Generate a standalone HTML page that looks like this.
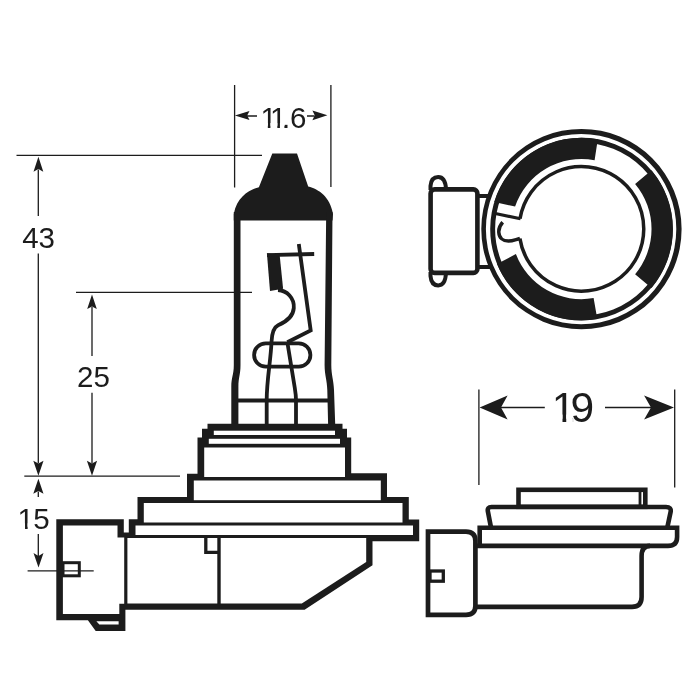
<!DOCTYPE html>
<html><head><meta charset="utf-8">
<style>
html,body{margin:0;padding:0;background:#fff;}
body{width:700px;height:700px;overflow:hidden;}
svg{display:block;}
text{font-family:"Liberation Sans",sans-serif;fill:#1c1c1c;}
.k{fill:#1c1c1c;}
.w{fill:#fff;}
.t{stroke:#1c1c1c;stroke-width:1.3;fill:none;}
.s{stroke:#1c1c1c;fill:none;}
</style></head>
<body>
<svg width="700" height="700" viewBox="0 0 700 700">
<rect width="700" height="700" fill="#fff"/>

<!-- ===== dimension lines ===== -->
<g class="t">
<path d="M234.6 85V187.5M330.9 85V187"/>
<path d="M247 115.9H257M307 115.9H314.5" stroke-width="1.5"/>
<path d="M16.5 155.3H262"/>
<path d="M76 292.4H252"/>
<path d="M24.3 476.2H180"/>
<path d="M38.3 169.5V215.9M38.3 253.6V463.2"/>
<path d="M92 307V355.9M92 392.7V463.2"/>
<path d="M38.3 491.5V497M38.3 533.9V556"/>
<path d="M478.9 389.6V485M674.7 389.6V487.5"/>
<path d="M500 407.4H544.8M605 407.4H652" stroke-width="1.5"/>
</g>
<!-- arrowheads -->
<g class="k">
<path d="M234.9 115.5L249.5 110.9L247.2 115.5L249.5 120.1Z"/>
<path d="M327.4 115.3L312.4 110.4L314.7 115.3L312.4 120.2Z"/>
<path d="M38.4 156.7L43.3 171.7L38.4 169.0L33.5 171.7Z"/>
<path d="M92.0 294.4L96.8 309.1L92.0 306.4L87.2 309.1Z"/>
<path d="M38.4 475.7L43.5 460.7L38.4 463.5L33.3 460.7Z"/>
<path d="M92.0 475.7L97.1 460.7L92.0 463.5L86.9 460.7Z"/>
<path d="M38.4 478.7L43.5 493.7L38.4 491.0L33.3 493.7Z"/>
<path d="M38.5 567.5L43.5 553.0L38.5 556.0L33.5 553.0Z"/>
<path d="M479.6 407.5L507.6 395.5L501.0 407.5L507.6 419.5Z"/>
<path d="M674.0 407.5L644.1 395.5L651.0 407.5L644.1 419.5Z"/>
</g>
<!-- labels -->
<g id="labels" style="filter:grayscale(1)">
<text id="t116" font-size="29.5" y="128.3"><tspan x="260.4">1</tspan><tspan x="269.9">1</tspan><tspan x="281.9">.</tspan><tspan x="290">6</tspan></text>
<text id="t43" font-size="29.5" y="247.7"><tspan x="22.3">4</tspan><tspan x="38.5">3</tspan></text>
<text id="t25" font-size="29.5" y="387.2"><tspan x="77.1">2</tspan><tspan x="93.5">5</tspan></text>
<text id="t15" font-size="29.5" y="528.6"><tspan x="17.6">1</tspan><tspan x="33.3">5</tspan></text>
<text id="t19" font-size="42.5" y="422.2"><tspan x="551.8">1</tspan><tspan x="570.6">9</tspan></text>
</g>
<g id="trim"><rect class="w" x="261.45" y="122.99" width="6.37" height="6.81"/><rect class="w" x="270.43" y="122.99" width="6.14" height="6.81"/><rect class="w" x="270.95" y="122.99" width="6.37" height="6.81"/><rect class="w" x="279.93" y="122.99" width="4.45" height="6.81"/><rect class="w" x="18.65" y="523.29" width="6.37" height="6.81"/><rect class="w" x="27.63" y="523.29" width="6.14" height="6.81"/><rect class="w" x="553.84" y="414.55" width="8.65" height="9.15"/><rect class="w" x="566.24" y="414.55" width="5.9" height="9.15"/><rect class="w" x="572.1" y="418.7" width="1.6" height="5"/></g>

<!-- ===== bulb (front view) ===== -->
<g id="bulb">
<path class="k" d="M272.3 153.5H297L308.2 186.6C319 189.3 330 197 333 214L332.5 220.5H233.8V214C237 197 249 189.8 258.9 187.2Z"/>
<path class="k" d="M233.8 212H240.5V365C240.5 375 238.4 377 238.4 387V424H231.3V387C231.3 377 233.8 375 233.8 365Z"/>
<path class="k" d="M326.2 212H332.5L331.3 365C331.3 375 333.6 380 334 390L335.2 424H328.1L327.3 390C327 380 324.6 375 324.6 365Z"/>
<path class="s" stroke-width="4" d="M237.5 400.4H328.5"/>
<!-- filament -->
<path class="k" d="M266.9 253.2L279.6 254.5L283.1 288.7L270 291Z"/>
<path class="s" stroke-width="3.8" d="M267 255.1L314.2 254"/>
<path class="s" stroke-width="3.8" stroke-linejoin="miter" d="M298.8 244.1L310.7 330.4L287.3 342.2"/>
<path class="s" stroke-width="3.8" d="M278 290C287 290.5 294.5 298 293.8 308C293.2 317 285 322.3 278.1 325.3C273.5 327.5 271.8 335 271.5 342C270.8 360 266.7 380 266.7 400V424"/>
<path class="s" stroke-width="3.8" d="M287.3 342L294.8 388C295.6 393 296 396 296 400V424"/>
<rect class="s" stroke-width="3.8" x="254.1" y="343.3" width="56.3" height="23.4" rx="11.7"/>
</g>

<!-- ===== base ===== -->
<g id="base">
<path class="k" d="M207.5 423.8H342.5V428.8H347V437.5H351.2V473.3H387V497H408.8V519.5H419.2V541.2H372.5V565.3L304.6 609.8H125.4V631H95.7L87.9 620.3H56.3V519.3H123.8V532.5H128.8V519.3H137.5V497H187V473.8H197.5V437.5H202V428.8H207.5Z"/>
<!-- white interiors -->
<rect class="w" x="213.8" y="430.7" width="121.2" height="4.3"/>
<rect class="w" x="208.8" y="438.8" width="131.2" height="5"/>
<rect class="w" x="204.2" y="447.5" width="140.8" height="29.5"/>
<rect class="w" x="193.8" y="480.5" width="187" height="19.7"/>
<rect class="w" x="143.8" y="503" width="258.7" height="19.5"/>
<rect class="w" x="135.5" y="525.5" width="277.5" height="9.5"/>
<path class="w" d="M127.4 538H217.3V603.6H127.4Z"/>
<path class="w" d="M220.7 538H366.2V562L301.8 603.6H220.7Z"/>
<path class="w" d="M62.9 525.6H117.5V537.5H124.2V603.7H119.3V614H62.9Z"/>
<path class="w" d="M96.4 621.2H118.6V624.6H99.3Z"/>
<!-- small parts -->
<path class="s" stroke-width="3.3" d="M205.8 537V552.4H219"/>
<rect class="s" stroke-width="3" x="63" y="562.7" width="16.3" height="13.1"/>
<path class="t" d="M27.6 570.9H93.7"/>
</g>

<!-- ===== top view ===== -->
<g id="top">
<path class="k" fill-rule="evenodd" d="M481.3 229.1a100.15 100.15 0 1 0 200.3 0a100.15 100.15 0 1 0 -200.3 0ZM485.9 229.1a95.2 95.2 0 1 0 190.4 0a95.2 95.2 0 1 0 -190.4 0Z"/>
<circle class="s" cx="581.45" cy="229.1" r="88.8" stroke-width="4.9"/>
<g id="bands">
<path class="k" d="M494.2 201.9A91.4 91.4 0 0 1 597.8 139.2L594.6 160.2A70.1 70.1 0 0 0 515.1 206.5ZM651.5 170.3A91.4 91.4 0 0 1 651.5 287.9L635.1 274.2A70.1 70.1 0 0 0 635.1 184.0ZM597.3 319.1A91.4 91.4 0 0 1 497.0 264.1L515.9 254.0A70.1 70.1 0 0 0 593.6 298.1Z"/>
<path class="s" stroke-width="3.5" d="M520.0 218.6A62.3 62.3 0 1 1 519.9 238.5"/>
<path class="s" stroke-width="3.1" d="M520.5 218.7L495.3 213.6"/>
<path class="s" stroke-width="3.5" stroke-linecap="butt" d="M502.7 222.3C499.8 225.5 498.6 229 498.8 232.3C499.2 237.8 503 241.2 508.6 241.1C512.5 241 515.5 239.6 519.9 238.5"/>
</g>
<rect class="s" stroke-width="4.6" x="430.6" y="189.4" width="46.8" height="83.5" rx="4"/>
<path class="s" stroke-width="4" d="M430.5 190V186C431 180 434 177 438.2 177C442.5 177 445.5 180 446 189"/>
<path class="s" stroke-width="4" d="M430.5 272V276C431 282.5 434 285.4 438.2 285.4C442.5 285.4 445.5 282.5 446 273"/>
<path class="s" stroke-width="4" d="M479 196H489.5M479 267H490.5"/>
</g>

<!-- ===== side view ===== -->
<g id="side">
<rect class="s" stroke-width="4.6" x="518.5" y="489.8" width="126.8" height="17"/>
<path class="s" stroke-width="2.8" d="M640 491V507"/>
<path class="s" stroke-width="4.6" stroke-linejoin="round" d="M491.1 528L487.9 511.5Q487 507 491.5 507H666Q671.6 507 670.6 512L667.2 528"/>
<path class="s" stroke-width="4.6" d="M479.7 546V527.8H677.1V537Q677.1 545.9 668 545.9H477"/>
<path class="s" stroke-width="4.6" d="M475.4 606.9H632Q641.6 606.9 641.6 597V556Q641.6 545.9 650 545.9"/>
<path class="s" stroke-width="4.7" d="M428 531.7H466Q475.4 531.7 475.4 541V606Q475.4 614.8 466 614.8H428Z"/>
<rect class="s" stroke-width="3.3" x="430" y="571" width="13.3" height="10.2"/>
</g>
</svg>
</body></html>
